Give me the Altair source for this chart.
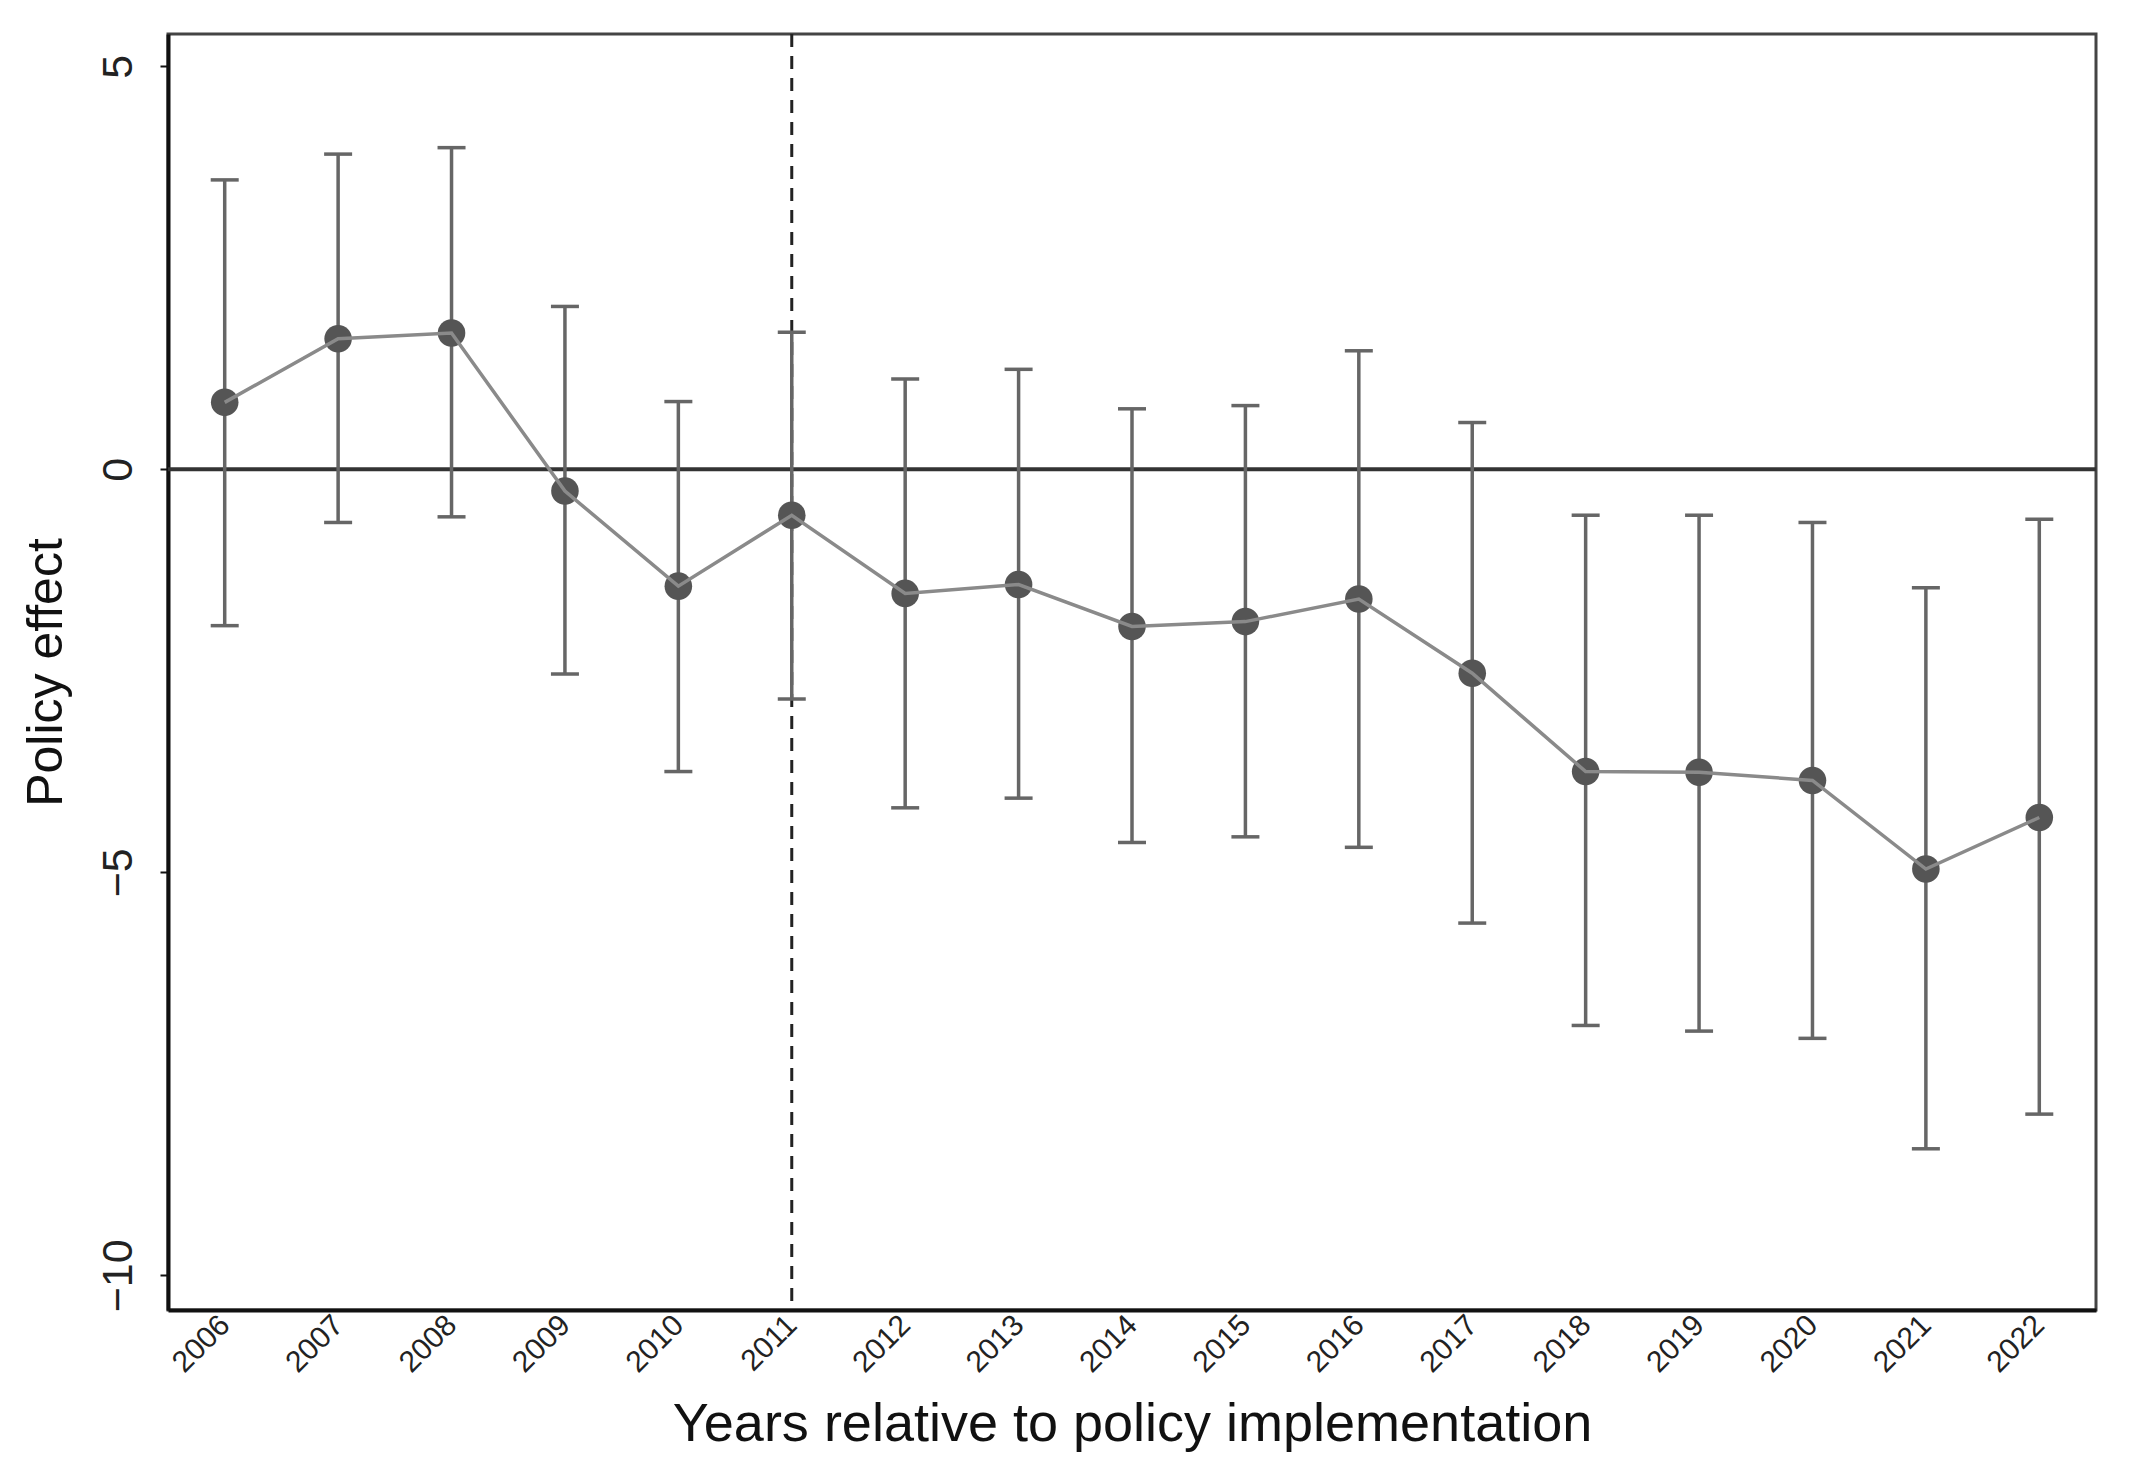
import pandas as pd
import altair as alt

# event-study estimates
years = [2006, 2007, 2008, 2009, 2010, 2011, 2012, 2013, 2014,
         2015, 2016, 2017, 2018, 2019, 2020, 2021, 2022]
estimate = [0.83, 1.62, 1.69, -0.27, -1.45, -0.57, -1.54, -1.43, -1.95,
            -1.89, -1.61, -2.53, -3.75, -3.76, -3.86, -4.96, -4.32]
upper = [3.59, 3.91, 3.99, 2.02, 0.84, 1.70, 1.12, 1.24, 0.75,
         0.79, 1.47, 0.58, -0.57, -0.57, -0.66, -1.47, -0.62]
lower = [-1.94, -0.66, -0.59, -2.54, -3.75, -2.85, -4.20, -4.08, -4.63,
         -4.56, -4.69, -5.63, -6.90, -6.97, -7.06, -8.43, -8.00]
y_ticks = [-10, -5, 0, 5]
policy_year = 2011

df = pd.DataFrame({'year': years, 'estimate': estimate,
                   'upper': upper, 'lower': lower})

x_scale = alt.Scale(domain=[2005.5, 2022.5], nice=False, zero=False)
y_scale = alt.Scale(domain=[-10.43, 5.40], nice=False, zero=False)

font = 'Liberation Sans'

x_axis = alt.Axis(values=years, format='d', title='Years relative to policy implementation',
                  labelAngle=315, labelAlign='right', labelBaseline='middle',
                  labelPadding=10, ticks=False, grid=False, labelFontSize=30,
                  labelColor='#222', labelFont=font, domainColor='#111', domainWidth=4,
                  titleFontSize=54, titleFont=font, titleFontWeight='normal',
                  titleColor='#111', titleY=130, titleBaseline='alphabetic',
                  labelFlush=False, labelOverlap=False)
y_axis = alt.Axis(values=y_ticks, title='Policy effect', labelAngle=270,
                  labelAlign='center', labelBaseline='bottom', labelPadding=20,
                  tickSize=8, tickColor='#111', tickWidth=2, grid=False,
                  labelFontSize=43, labelColor='#222', labelFont=font,
                  domainColor='#111', domainWidth=4, titleFontSize=50,
                  titleFont=font, titleFontWeight='normal', titleColor='#111',
                  titleX=-122, titleBaseline='middle', labelFlush=False)

base = alt.Chart(df)

zero_line = alt.Chart(pd.DataFrame({'y': [0]})).mark_rule(
    color='#333', strokeWidth=4
).encode(y=alt.Y('y:Q', scale=y_scale, axis=y_axis))

policy_line = alt.Chart(pd.DataFrame({'x': [policy_year]})).mark_rule(
    color='#222', strokeWidth=3, strokeDash=[13, 9]
).encode(x=alt.X('x:Q', scale=x_scale, axis=x_axis))

bars = base.mark_rule(color='#666', strokeWidth=3.5).encode(
    x=alt.X('year:Q', scale=x_scale, axis=x_axis),
    y=alt.Y('lower:Q', scale=y_scale, axis=y_axis),
    y2='upper:Q'
)

cap_hi = base.mark_rule(color='#666', strokeWidth=3.5, xOffset=-14, x2Offset=14).encode(
    x=alt.X('year:Q', scale=x_scale, axis=x_axis),
    x2='year:Q',
    y=alt.Y('upper:Q', scale=y_scale, axis=y_axis)
)
cap_lo = base.mark_rule(color='#666', strokeWidth=3.5, xOffset=-14, x2Offset=14).encode(
    x=alt.X('year:Q', scale=x_scale, axis=x_axis),
    x2='year:Q',
    y=alt.Y('lower:Q', scale=y_scale, axis=y_axis)
)

points = base.mark_circle(color='#555555', opacity=1, size=760).encode(
    x=alt.X('year:Q', scale=x_scale, axis=x_axis),
    y=alt.Y('estimate:Q', scale=y_scale, axis=y_axis)
)

line = base.mark_line(color='#8a8a8a', strokeWidth=3.5).encode(
    x=alt.X('year:Q', scale=x_scale, axis=x_axis),
    y=alt.Y('estimate:Q', scale=y_scale, axis=y_axis)
)

chart = alt.layer(zero_line, policy_line, bars, cap_hi, cap_lo, points, line).properties(
    width=1928,
    height=1276,
    background='white',
    autosize=alt.AutoSizeParams(type='none'),
    padding={'left': 160, 'top': 26, 'right': 26, 'bottom': 158}
).configure_view(
    stroke='#444', strokeWidth=3
)

chart.save("out.html", embed_options={"renderer": "svg", "actions": False})
